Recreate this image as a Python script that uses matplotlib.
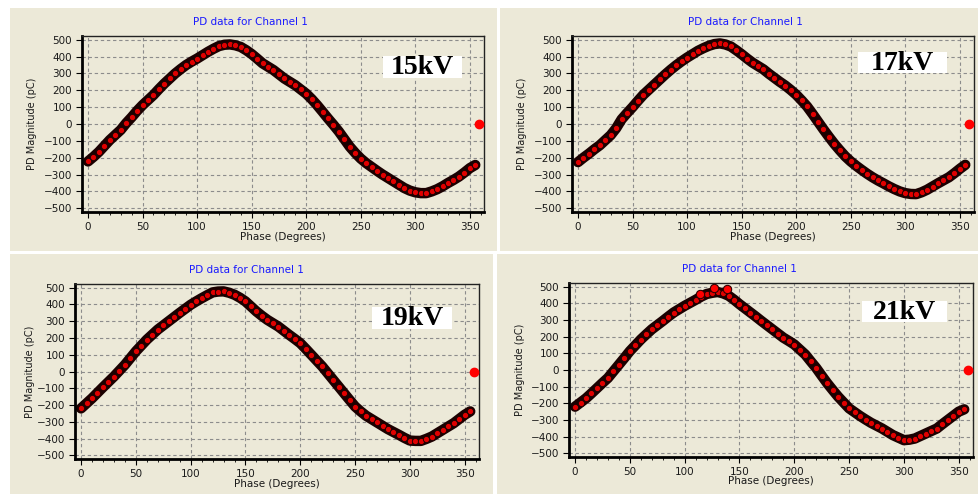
import matplotlib
matplotlib.use('Agg')
import matplotlib.pyplot as plt
from matplotlib.patches import Rectangle
from matplotlib.ticker import MultipleLocator

# phase points (degrees) read every 5 deg off the four screenshots
phase = list(range(0, 360, 5))

pd_15kv = [-222, -195, -165, -130, -95, -65, -35, 5, 40, 78, 112, 142,
           172, 207, 240, 270, 300, 326, 350, 370, 388, 408, 428, 446,
           462, 470, 472, 467, 457, 438, 415, 388, 360, 340, 320, 295,
           270, 250, 230, 205, 180, 148, 112, 73, 33, -5, -45, -90,
           -135, -172, -205, -232, -255, -278, -300, -320, -340, -360, -380, -395,
           -405, -410, -410, -400, -387, -370, -350, -332, -312, -288, -262, -243]

pd_17kv = [-226, -200, -176, -150, -126, -96, -66, -25, 28, 65, 100, 138,
           174, 204, 234, 264, 294, 322, 348, 372, 394, 414, 434, 450,
           464, 474, 478, 472, 460, 438, 414, 388, 364, 344, 324, 298,
           274, 250, 228, 202, 174, 140, 104, 60, 14, -32, -76, -118,
           -156, -192, -222, -248, -272, -295, -316, -335, -352, -370, -386, -400,
           -410, -415, -416, -405, -390, -371, -352, -334, -316, -292, -266, -242]

pd_19kv = [-220, -190, -160, -127, -94, -62, -30, 5, 40, 80, 120, 155,
           190, 220, 250, 275, 300, 325, 350, 374, 398, 418, 437, 455,
           472, 477, 478, 470, 458, 440, 418, 388, 358, 332, 308, 288,
           268, 243, 218, 194, 169, 135, 100, 65, 30, -10, -50, -90,
           -130, -170, -209, -238, -264, -284, -304, -324, -344, -361, -378, -396,
           -412, -414, -414, -402, -388, -368, -348, -328, -308, -283, -258, -238]

pd_21kv = [-220, -195, -170, -140, -109, -78, -48, -8, 32, 72, 113, 148,
           183, 214, 244, 269, 294, 320, 345, 365, 385, 403, 421, 440,
           456, 463, 468, 460, 446, 422, 395, 370, 345, 320, 294, 269,
           244, 219, 194, 174, 153, 123, 93, 52, 12, -34, -79, -120,
           -160, -195, -230, -253, -276, -297, -317, -334, -351, -371, -391, -406,
           -421, -418, -411, -396, -381, -366, -351, -325, -300, -275, -250, -236]

# a few stray pulses above the 21 kV peak
extra_phase_21kv = [114, 127, 139]
extra_pd_21kv = [458, 490, 486]

# lone point at the end of each record
outlier_phase = 358
outlier_pd = 0

labels = ['15kV', '17kV', '19kV', '21kV']
series = [pd_15kv, pd_17kv, pd_19kv, pd_21kv]

W, H = 979, 494
BG = '#ECE9D8'


def px_rect(x0, y0, x1, y1):
    return [x0 / W, 1 - y1 / H, (x1 - x0) / W, (y1 - y0) / H]


# panel background, axes box, title centre, label box (axes fraction), ylabel x
panels = [
    dict(bg=(10, 8, 497, 251), ax=(82, 36, 484, 212), title=(250, 22),
         box=(0.749, 0.761, 0.196, 0.125), ylx=-0.124),
    dict(bg=(500, 8, 979, 251), ax=(572, 36, 974, 212), title=(745, 22),
         box=(0.711, 0.790, 0.222, 0.119), ylx=-0.124),
    dict(bg=(10, 254, 493, 494), ax=(75, 284, 479, 459), title=(246, 270),
         box=(0.735, 0.743, 0.198, 0.126), ylx=-0.111),
    dict(bg=(497, 254, 979, 494), ax=(569, 283, 973, 457), title=(739, 269),
         box=(0.725, 0.776, 0.211, 0.121), ylx=-0.121),
]

fig = plt.figure(figsize=(W / 100, H / 100), dpi=100, facecolor='white')

for i, p in enumerate(panels):
    fig.add_artist(Rectangle(px_rect(*p['bg'])[:2], *px_rect(*p['bg'])[2:],
                             transform=fig.transFigure, facecolor=BG,
                             edgecolor='none', zorder=0))
    ax = fig.add_axes(px_rect(*p['ax']))
    ax.set_facecolor(BG)

    vals = series[i]
    # dense cloud of pulses: dark band with red markers on top
    ax.plot(phase, vals, color='#1a0000', lw=7.5, zorder=2,
            solid_capstyle='round', solid_joinstyle='round')
    ax.plot(phase, vals, 'o', ms=4.5, mfc='#e00000', mec='#200000', mew=0.7, zorder=3)
    if i == 3:
        ax.plot(extra_phase_21kv, extra_pd_21kv, 'o', ms=6, mfc='#ff0000',
                mec='#300000', mew=0.8, zorder=3)
    ax.plot([outlier_phase], [outlier_pd], 'o', ms=6, mfc='#ff0000',
            mec='#ff0000', zorder=3)

    ax.set_xlim(-5.5, 363)
    ax.set_ylim(-522, 522)
    ax.xaxis.set_major_locator(MultipleLocator(50))
    ax.xaxis.set_minor_locator(MultipleLocator(10))
    ax.yaxis.set_major_locator(MultipleLocator(100))
    ax.grid(True, which='major', color='#8c8c8c', linestyle=(0, (3, 2.5)), linewidth=0.8)
    ax.set_axisbelow(True)

    ax.tick_params(axis='both', which='major', direction='out', length=4, width=0.8,
                   labelsize=7.5, labelcolor='#1a1a1a', pad=3)
    ax.tick_params(axis='x', which='minor', direction='out', length=2, width=0.6)

    for side in ('left', 'bottom'):
        ax.spines[side].set_linewidth(2)
        ax.spines[side].set_color('black')
    for side in ('top', 'right'):
        ax.spines[side].set_linewidth(1)
        ax.spines[side].set_color('#222222')

    ax.set_xlabel('Phase (Degrees)', fontsize=7.5, color='#1a1a1a')
    ax.set_ylabel('PD Magnitude (pC)', fontsize=7, color='#1a1a1a')
    ax.xaxis.label.set_va('center')
    ax.yaxis.label.set_va('center')
    ax.xaxis.set_label_coords(0.5, -0.14)
    ax.yaxis.set_label_coords(p['ylx'], 0.5)

    bx, by, bw, bh = p['box']
    ax.add_patch(Rectangle((bx, by), bw, bh, transform=ax.transAxes,
                           facecolor='white', edgecolor='none', zorder=4))
    ax.text(bx + bw / 2, by + bh / 2 - 0.005, labels[i], transform=ax.transAxes,
            ha='center', va='center', fontsize=20, fontweight='bold',
            family='Liberation Serif', color='black', zorder=5)

    fig.text(p['title'][0] / W, 1 - p['title'][1] / H, 'PD data for Channel 1',
             ha='center', va='center', fontsize=7.5, color='#1a1aff')

fig.savefig('out.png', dpi=100, facecolor='white')
